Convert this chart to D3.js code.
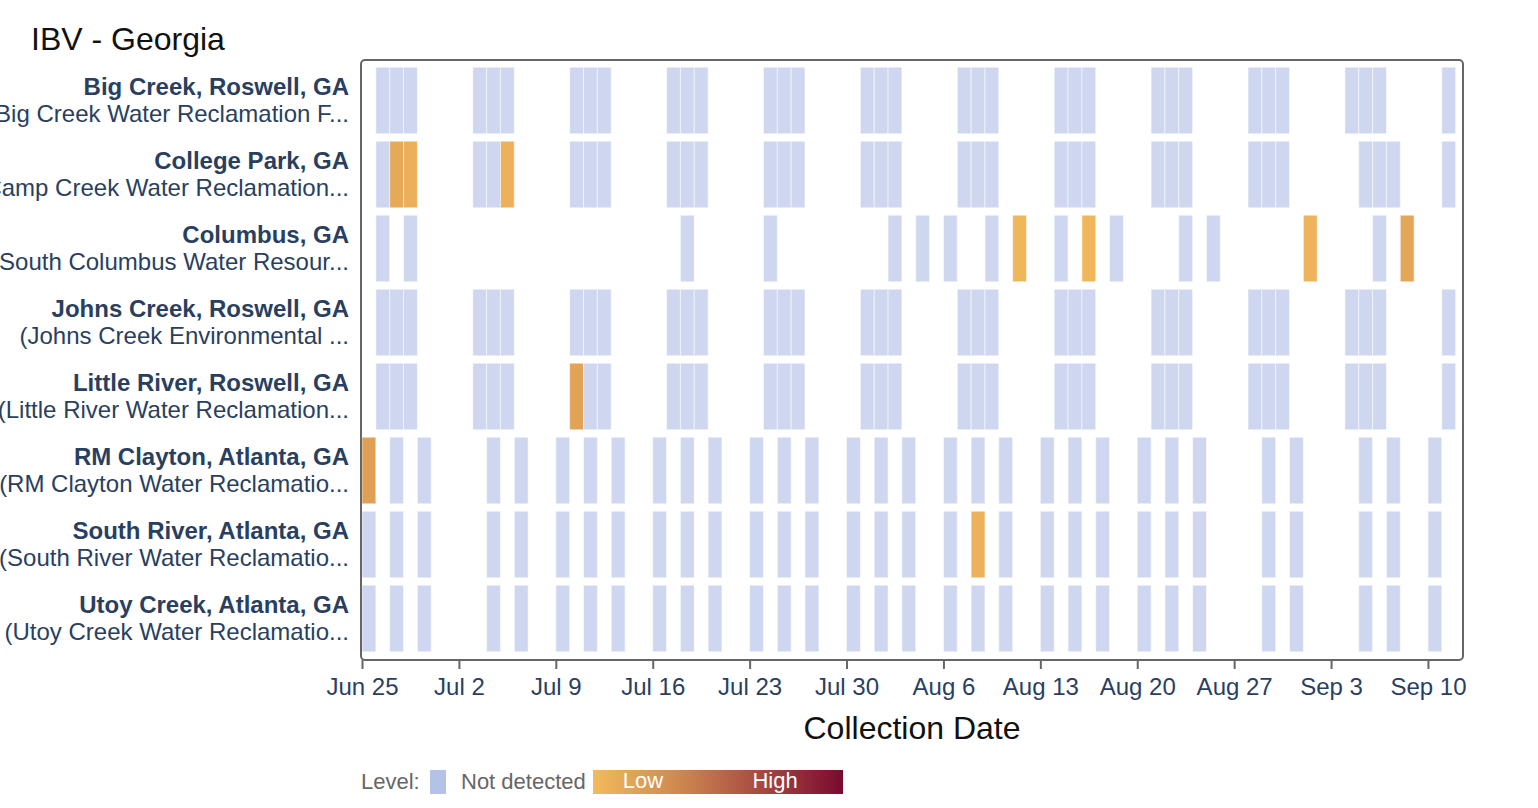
<!DOCTYPE html>
<html>
<head>
<meta charset="utf-8">
<script src="https://cdn.jsdelivr.net/npm/d3@7"></script>
<style>
  html, body { margin: 0; padding: 0; background: #fff; }
  svg { display: block; font-family: "Liberation Sans", Arial, sans-serif; }
</style>
</head>
<body>
<svg id="chart" width="1538" height="808"></svg>
<script>
// ---------- DATA ----------
const chartTitle = "IBV - Georgia";
const xAxisTitle = "Collection Date";

const siteNames = [
  "Big Creek, Roswell, GA",
  "College Park, GA",
  "Columbus, GA",
  "Johns Creek, Roswell, GA",
  "Little River, Roswell, GA",
  "RM Clayton, Atlanta, GA",
  "South River, Atlanta, GA",
  "Utoy Creek, Atlanta, GA"
];
const facilityNames = [
  "(Big Creek Water Reclamation F...",
  "(Camp Creek Water Reclamation...",
  "(South Columbus Water Resour...",
  "(Johns Creek Environmental ...",
  "(Little River Water Reclamation...",
  "(RM Clayton Water Reclamatio...",
  "(South River Water Reclamatio...",
  "(Utoy Creek Water Reclamatio..."
];

// sample collection dates (2023) per site
const bigCreekDates = ["06-26","06-27","06-28","07-03","07-04","07-05","07-10","07-11","07-12","07-17","07-18","07-19","07-24","07-25","07-26","07-31","08-01","08-02","08-07","08-08","08-09","08-14","08-15","08-16","08-21","08-22","08-23","08-28","08-29","08-30","09-04","09-05","09-06","09-11"];
const collegeParkDates = ["06-26","06-27","06-28","07-03","07-04","07-05","07-10","07-11","07-12","07-17","07-18","07-19","07-24","07-25","07-26","07-31","08-01","08-02","08-07","08-08","08-09","08-14","08-15","08-16","08-21","08-22","08-23","08-28","08-29","08-30","09-05","09-06","09-07","09-11"];
const columbusDates = ["06-26","06-28","07-18","07-24","08-02","08-04","08-06","08-09","08-11","08-14","08-16","08-18","08-23","08-25","09-01","09-06","09-08"];
const johnsCreekDates = ["06-26","06-27","06-28","07-03","07-04","07-05","07-10","07-11","07-12","07-17","07-18","07-19","07-24","07-25","07-26","07-31","08-01","08-02","08-07","08-08","08-09","08-14","08-15","08-16","08-21","08-22","08-23","08-28","08-29","08-30","09-04","09-05","09-06","09-11"];
const littleRiverDates = ["06-26","06-27","06-28","07-03","07-04","07-05","07-10","07-11","07-12","07-17","07-18","07-19","07-24","07-25","07-26","07-31","08-01","08-02","08-07","08-08","08-09","08-14","08-15","08-16","08-21","08-22","08-23","08-28","08-29","08-30","09-04","09-05","09-06","09-11"];
const rmClaytonDates = ["06-25","06-27","06-29","07-04","07-06","07-09","07-11","07-13","07-16","07-18","07-20","07-23","07-25","07-27","07-30","08-01","08-03","08-06","08-08","08-10","08-13","08-15","08-17","08-20","08-22","08-24","08-29","08-31","09-05","09-07","09-10"];
const southRiverDates = ["06-25","06-27","06-29","07-04","07-06","07-09","07-11","07-13","07-16","07-18","07-20","07-23","07-25","07-27","07-30","08-01","08-03","08-06","08-08","08-10","08-13","08-15","08-17","08-20","08-22","08-24","08-29","08-31","09-05","09-07","09-10"];
const utoyCreekDates = ["06-25","06-27","06-29","07-04","07-06","07-09","07-11","07-13","07-16","07-18","07-20","07-23","07-25","07-27","07-30","08-01","08-03","08-06","08-08","08-10","08-13","08-15","08-17","08-20","08-22","08-24","08-29","08-31","09-05","09-07","09-10"];

// detection levels (0 = not detected; 0..1 along Low..High scale)
const bigCreekLevels    = {};
const collegeParkLevels = {"06-27": 0.12, "06-28": 0.07, "07-05": 0.06};
const columbusLevels    = {"08-11": 0.03, "08-16": 0.03, "09-01": 0.04, "09-08": 0.13};
const johnsCreekLevels  = {};
const littleRiverLevels = {"07-10": 0.16};
const rmClaytonLevels   = {"06-25": 0.18};
const southRiverLevels  = {"08-08": 0.06};
const utoyCreekLevels   = {};

const siteDates  = [bigCreekDates, collegeParkDates, columbusDates, johnsCreekDates, littleRiverDates, rmClaytonDates, southRiverDates, utoyCreekDates];
const siteLevels = [bigCreekLevels, collegeParkLevels, columbusLevels, johnsCreekLevels, littleRiverLevels, rmClaytonLevels, southRiverLevels, utoyCreekLevels];

const year = "2023";
const xStart = "2023-06-24T22:15:00Z";
const xEnd   = "2023-09-12T12:45:00Z";

const legendLabel = "Level:";
const legendNotDetected = "Not detected";
const legendLow = "Low";
const legendHigh = "High";
const levelStops = ["#f2ba5c", "#cf8a50", "#a84a42", "#7a0a30"];
const notDetectedColor = "#b3c2e6";

// ---------- BUILD ----------
const cells = [];
siteNames.forEach((s, i) => {
  siteDates[i].forEach(md => {
    const lvl = siteLevels[i][md] || 0;
    cells.push({ site: s, date: new Date(year + "-" + md + "T00:00:00Z"), level: lvl });
  });
});

const svg = d3.select("#chart");
const plot = { left: 361, right: 1463, top: 60, bottom: 660 };

const x = d3.scaleUtc()
  .domain([new Date(xStart), new Date(xEnd)])
  .range([plot.left, plot.right]);

const y = d3.scaleBand()
  .domain(siteNames)
  .range([plot.top + 3.5, plot.bottom - 4.5])
  .paddingInner(0.1)
  .paddingOuter(0.05);

const levelColor = d3.scaleLinear()
  .domain(levelStops.map((c, i) => i / (levelStops.length - 1)))
  .range(levelStops)
  .interpolate(d3.interpolateRgb);

// title
svg.append("text")
  .attr("x", 31).attr("y", 42)
  .attr("dominant-baseline", "middle")
  .attr("font-size", 32)
  .attr("fill", "#111")
  .text(chartTitle);

// cells
svg.append("g").selectAll("rect")
  .data(cells)
  .join("rect")
  .attr("x", d => x(d.date))
  .attr("y", d => y(d.site))
  .attr("width", d => x(d3.utcDay.offset(d.date, 1)) - x(d.date))
  .attr("height", y.bandwidth())
  .attr("fill", d => d.level > 0 ? levelColor(d.level) : notDetectedColor)
  .attr("fill-opacity", d => d.level > 0 ? 1 : 0.65)
  .attr("stroke", "#ffffff")
  .attr("stroke-opacity", 0.55)
  .attr("stroke-width", 1);

// frame
svg.append("rect")
  .attr("x", plot.left).attr("y", plot.top)
  .attr("width", plot.right - plot.left)
  .attr("height", plot.bottom - plot.top)
  .attr("rx", 4).attr("ry", 4)
  .attr("fill", "none")
  .attr("stroke", "#666")
  .attr("stroke-width", 2);

// x axis
const xAxis = d3.axisBottom(x)
  .ticks(d3.utcWeek.every(1))
  .tickFormat(d3.utcFormat("%b %-d"))
  .tickSize(9)
  .tickSizeOuter(0);

const gx = svg.append("g")
  .attr("transform", `translate(0,${plot.bottom})`)
  .call(xAxis);
gx.select(".domain").remove();
gx.selectAll(".tick line").attr("stroke", "#666").attr("stroke-width", 2);
gx.selectAll(".tick text")
  .attr("y", 29)
  .attr("dy", 0)
  .attr("dominant-baseline", "middle")
  .attr("font-size", 24)
  .attr("font-family", "Liberation Sans, Arial, sans-serif")
  .attr("fill", "#2a3f5f");

svg.append("text")
  .attr("x", (plot.left + plot.right) / 2)
  .attr("y", 731)
  .attr("text-anchor", "middle")
  .attr("dominant-baseline", "middle")
  .attr("font-size", 32)
  .attr("fill", "#111")
  .text(xAxisTitle);

// y labels
const gy = svg.append("g");
siteNames.forEach((s, i) => {
  const cy = y(s) + y.bandwidth() / 2;
  const t = gy.append("text")
    .attr("text-anchor", "end")
    .attr("fill", "#2a3f5f")
    .attr("font-size", 24);
  t.append("tspan")
    .attr("x", 349).attr("y", cy - 11.5)
    .attr("dominant-baseline", "middle")
    .attr("font-weight", "bold")
    .text(s);
  t.append("tspan")
    .attr("x", 349).attr("y", cy + 15.5)
    .attr("dominant-baseline", "middle")
    .text(facilityNames[i]);
});

// legend
const leg = svg.append("g");
const legY = 783;
leg.append("text")
  .attr("x", 361).attr("y", legY)
  .attr("dominant-baseline", "middle")
  .attr("font-size", 22)
  .attr("fill", "#666")
  .text(legendLabel);
leg.append("rect")
  .attr("x", 430).attr("y", 770)
  .attr("width", 16).attr("height", 24)
  .attr("fill", notDetectedColor);
leg.append("text")
  .attr("x", 461).attr("y", legY)
  .attr("dominant-baseline", "middle")
  .attr("font-size", 22)
  .attr("fill", "#666")
  .text(legendNotDetected);

const grad = svg.append("defs").append("linearGradient")
  .attr("id", "lvlgrad").attr("x1", "0%").attr("x2", "100%");
levelStops.forEach((c, i) => {
  grad.append("stop")
    .attr("offset", (i / (levelStops.length - 1) * 100) + "%")
    .attr("stop-color", c);
});
leg.append("rect")
  .attr("x", 593).attr("y", 770)
  .attr("width", 250).attr("height", 24)
  .attr("fill", "url(#lvlgrad)");
leg.append("text")
  .attr("x", 643).attr("y", legY - 1)
  .attr("text-anchor", "middle")
  .attr("dominant-baseline", "middle")
  .attr("font-size", 22)
  .attr("fill", "#fff")
  .text(legendLow);
leg.append("text")
  .attr("x", 775).attr("y", legY - 1)
  .attr("text-anchor", "middle")
  .attr("dominant-baseline", "middle")
  .attr("font-size", 22)
  .attr("fill", "#fff")
  .text(legendHigh);
</script>
</body>
</html>
